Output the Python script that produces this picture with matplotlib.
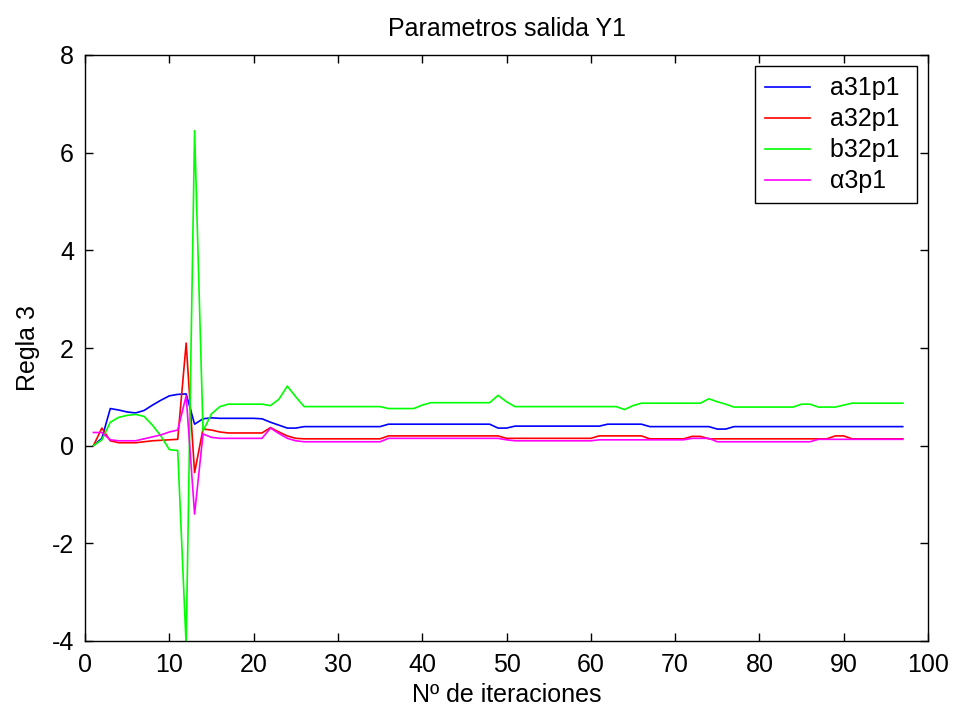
import matplotlib
matplotlib.use("Agg")
import matplotlib.pyplot as plt
import numpy as np

plt.rcParams['font.family'] = ['Liberation Sans Narrow', 'Liberation Sans', 'DejaVu Sans']
plt.rcParams['axes.unicode_minus'] = False

# iteraciones 1..97
iteraciones = np.arange(1, 98)

a31p1 = ([0.0, 0.15, 0.76, 0.73, 0.69, 0.67, 0.72, 0.83, 0.93, 1.02,
          1.05, 1.06, 0.44, 0.55, 0.57, 0.56, 0.56, 0.56, 0.56, 0.56,
          0.55, 0.48, 0.42, 0.36, 0.36]
         + [0.39] * 10 + [0.44] * 13 + [0.36, 0.36]
         + [0.40] * 11 + [0.44] * 5 + [0.39] * 8 + [0.34, 0.34]
         + [0.39] * 21)

a32p1 = ([0.0, 0.36, 0.10, 0.06, 0.06, 0.06, 0.08, 0.10, 0.11, 0.12,
          0.13, 2.10, -0.55, 0.34, 0.32, 0.28, 0.26, 0.26, 0.26, 0.26,
          0.26, 0.37, 0.28, 0.20, 0.15]
         + [0.14] * 10 + [0.20] * 14 + [0.15] * 11 + [0.20] * 6
         + [0.14] * 5 + [0.19, 0.19] + [0.14] * 15 + [0.20, 0.20]
         + [0.14] * 7)

b32p1 = ([0.0, 0.12, 0.48, 0.58, 0.62, 0.64, 0.60, 0.42, 0.20, -0.08,
          -0.10, -4.1, 6.45, 0.30, 0.65, 0.80, 0.85, 0.85, 0.85, 0.85,
          0.85, 0.82, 0.95, 1.22, 1.00]
         + [0.80] * 10 + [0.76] * 4 + [0.83] + [0.88] * 8 + [1.03, 0.90]
         + [0.80] * 13 + [0.74, 0.82] + [0.87] * 8 + [0.96, 0.90, 0.85]
         + [0.79] * 8 + [0.85, 0.85] + [0.79] * 3 + [0.83] + [0.87] * 7)

alfa3p1 = ([0.27, 0.27, 0.12, 0.10, 0.10, 0.10, 0.14, 0.18, 0.22, 0.28,
            0.32, 1.02, -1.40, 0.24, 0.17, 0.15, 0.15, 0.15, 0.15, 0.15,
            0.15, 0.36, 0.25, 0.15, 0.10]
           + [0.08] * 10 + [0.15] * 14 + [0.12] + [0.10] * 10
           + [0.12] * 11 + [0.15] * 3 + [0.08] * 12 + [0.13] * 11)

fig = plt.figure(figsize=(9.56, 7.11), dpi=100)
ax = fig.add_axes([85/956, 70/711, 843/956, 586/711])

ax.plot(iteraciones, a31p1, color='#0000ff', lw=1.2, label='a31p1 ')
ax.plot(iteraciones, a32p1, color='#ff0000', lw=1.2, label='a32p1 ')
ax.plot(iteraciones, b32p1, color='#00ff00', lw=1.2, label='b32p1 ')
ax.plot(iteraciones, alfa3p1, color='#ff00ff', lw=1.2, label='\u03b13p1 ')

ax.set_xlim(0, 100)
ax.set_ylim(-4, 8)
ax.set_xticks(range(0, 101, 10))
ax.set_yticks(range(-4, 9, 2))
ax.tick_params(direction='in', length=6, width=1, top=True, right=True,
               labelsize=18)
ax.tick_params(axis='x', pad=9)
ax.tick_params(axis='y', pad=8)
for s in ax.spines.values():
    s.set_linewidth(1.0)

ax.set_title('Parametros salida Y1', fontsize=18, pad=14)
ax.set_xlabel('N\u00ba de iteraciones', fontsize=18, labelpad=4)
ax.set_ylabel('Regla 3', fontsize=18, labelpad=8)

leg = ax.legend(loc='upper right', fontsize=18, frameon=True, fancybox=False,
                edgecolor='black', framealpha=1, handlelength=1.8,
                handletextpad=0.8, labelspacing=0.28, borderaxespad=0.45,
                borderpad=0.4)
leg.get_frame().set_linewidth(1.0)

fig.savefig('out.png', dpi=100)
